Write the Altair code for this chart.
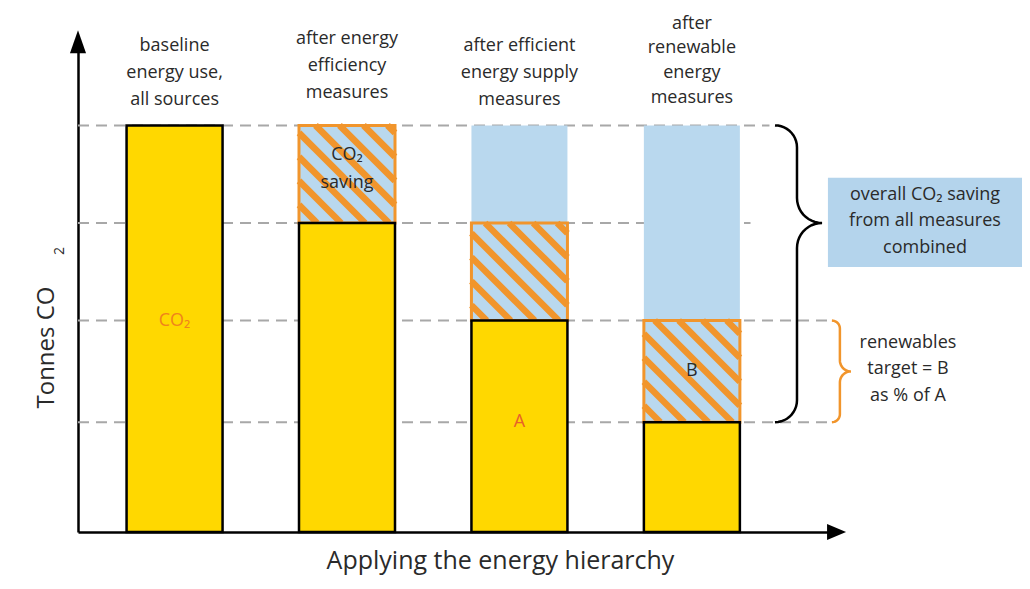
import altair as alt
import pandas as pd
import numpy as np

# ---------------- data ----------------
stage_pos = [1, 2, 3, 4]
stage_labels = [
    "baseline\nenergy use,\nall sources",
    "after energy\nefficiency\nmeasures",
    "after efficient\nenergy supply\nmeasures",
    "after\nrenewable\nenergy\nmeasures",
]
remaining_co2 = [100, 76, 52, 27]      # tonnes CO2 left after each step (relative)
baseline_co2 = 100

# ---------------- layout constants ----------------
X_DOM = [0.44, 4.83]
Y_DOM = [0, 121]
W, H = 757, 492
SX = W / (X_DOM[1] - X_DOM[0])   # px per x unit
SY = H / (Y_DOM[1] - Y_DOM[0])   # px per y unit
HALF = 48 / SX                   # half bar width

YELLOW = "#FFD800"
BLUE = "#B9D8EE"
BOX_BLUE = "#B4D4EC"
ORANGE = "#F1952C"
TXT = "#2a2a2a"
FONT = "Open Sans"
FS = 18

label_y = [119.5, 121.2, 119.5, 125.0]   # first line of each stage label
label_lh = [27, 27, 27, 24.7]
grid_end = [4.45, 4.34, 4.82, 4.82]

# ---------------- tables ----------------
yellow = pd.DataFrame({
    "x": [p - HALF for p in stage_pos], "x2": [p + HALF for p in stage_pos],
    "y": [0] * 4, "y2": remaining_co2})

hatch = pd.DataFrame({
    "x": [p - HALF for p in stage_pos[1:]], "x2": [p + HALF for p in stage_pos[1:]],
    "y": remaining_co2[1:], "y2": remaining_co2[:-1]})

blue = pd.DataFrame({
    "x": [p - HALF for p in stage_pos[2:]], "x2": [p + HALF for p in stage_pos[2:]],
    "y": remaining_co2[1:-1], "y2": [baseline_co2] * 2})

# hatch stripes ("\" direction), clipped to each hatched rectangle
rows = []
P = 24.0
for _, r in hatch.iterrows():
    u0, u1 = r.x * SX, r.x2 * SX
    v0, v1 = r.y * SY, r.y2 * SY
    c = np.floor((u0 + v0) / P) * P
    while c < u1 + v1:
        us = max(u0, c - v1)
        ue = min(u1, c - v0)
        if ue - us > 0.5:
            rows.append({"x": us / SX, "y": (c - us) / SY,
                         "x2": ue / SX, "y2": (c - ue) / SY})
        c += P
stripes = pd.DataFrame(rows)

grid = pd.DataFrame({"x": [X_DOM[0]] * 4, "x2": grid_end, "y": remaining_co2})


def brace(xa, yt, yb, ym, spine_px, tip_px):
    """curly brace opening left, tip to the right; returns data points"""
    ua = xa * SX
    ut = ua + tip_px
    r1 = spine_px
    r2 = tip_px - spine_px
    vt, vb, vm = yt * SY, yb * SY, ym * SY
    pts = []
    for a in np.linspace(np.pi / 2, 0, 12):        # top hook
        pts.append((ua + r1 * np.cos(a), vt - r1 + r1 * np.sin(a)))
    for a in np.linspace(np.pi, 1.5 * np.pi, 12):  # into tip
        pts.append((ut + r2 * np.cos(a), vm + r2 + r2 * np.sin(a)))
    for a in np.linspace(0.5 * np.pi, np.pi, 12):  # out of tip
        pts.append((ut + r2 * np.cos(a), vm - r2 + r2 * np.sin(a)))
    for a in np.linspace(0, -np.pi / 2, 12):       # bottom hook
        pts.append((ua + r1 * np.cos(a), vb + r1 + r1 * np.sin(a)))
    return pd.DataFrame({"x": [p[0] / SX for p in pts],
                         "y": [p[1] / SY for p in pts],
                         "o": list(range(len(pts)))})


brace_all = brace(4.482, remaining_co2[0], remaining_co2[3], remaining_co2[1], 22, 47)
brace_ren = brace(4.812, remaining_co2[2], remaining_co2[3],
                  (remaining_co2[2] + remaining_co2[3]) / 2, 8, 19)

labels = pd.DataFrame({"x": stage_pos, "y": label_y, "t": stage_labels})

inner = pd.DataFrame({
    "x": [1, 2, 3, 4],
    "y": [remaining_co2[2], 92.7, remaining_co2[3],
          (remaining_co2[2] + remaining_co2[3]) / 2],
    "t": ["CO₂", "CO₂\nsaving", "A", "B"],
    "c": ["#F0841C", TXT, "#E8602A", TXT]})

box = pd.DataFrame({"x": [4.789], "x2": [5.961], "y": [65.2], "y2": [87.1]})
notes = pd.DataFrame({
    "x": [5.352, 5.253],
    "y": [82.9, 46.5],
    "t": ["overall CO₂ saving\nfrom all measures\ncombined",
          "renewables\ntarget = B\nas % of A"]})

arrows = pd.DataFrame({"x": [X_DOM[0], 4.839], "y": [120.6, 0],
                       "s": ["up", "right"]})

# ---------------- encodings ----------------
xs = alt.Scale(domain=X_DOM, nice=False, zero=False)
ys = alt.Scale(domain=Y_DOM, nice=False, zero=False)
X = alt.X("x:Q", scale=xs, axis=alt.Axis(
    title="Applying the energy hierarchy", labels=False, ticks=False, grid=False,
    domainColor="black", domainWidth=2.5, titleFontSize=25, titleFont=FONT,
    titleFontWeight="normal", titleColor=TXT, titleX=422, titleY=36,
    titleAlign="center", titleBaseline="alphabetic"))
Y = alt.Y("y:Q", scale=ys, axis=alt.Axis(
    title="Tonnes CO", labels=False, ticks=False, grid=False,
    domainColor="black", domainWidth=2.5, titleFontSize=24, titleFont=FONT,
    titleFontWeight="normal", titleColor=TXT, titleAngle=270, titleX=-25,
    titleY=307, titleAlign="center", titleBaseline="alphabetic"))
X2 = alt.X2("x2:Q")
Y2 = alt.Y2("y2:Q")

layers = []
layers.append(alt.Chart(grid).mark_rule(color="#A8A8A8", strokeWidth=2,
                                         strokeDash=[11, 7]).encode(x=X, x2=X2, y=Y))
layers.append(alt.Chart(blue).mark_rect(color=BLUE).encode(x=X, x2=X2, y=Y, y2=Y2))
layers.append(alt.Chart(hatch).mark_rect(color=BLUE).encode(x=X, x2=X2, y=Y, y2=Y2))
layers.append(alt.Chart(stripes).mark_rule(color=ORANGE, strokeWidth=6.5,
                                            strokeCap="butt").encode(x=X, x2=X2, y=Y, y2=Y2))
layers.append(alt.Chart(hatch).mark_rect(fillOpacity=0, stroke=ORANGE, strokeWidth=3)
              .encode(x=X, x2=X2, y=Y, y2=Y2))
layers.append(alt.Chart(yellow).mark_rect(color=YELLOW, stroke="black", strokeWidth=2.5)
              .encode(x=X, x2=X2, y=Y, y2=Y2))
layers.append(alt.Chart(brace_all).mark_line(color="black", strokeWidth=2.5)
              .encode(x=X, y=Y, order="o:Q"))
layers.append(alt.Chart(brace_ren).mark_line(color=ORANGE, strokeWidth=2.5)
              .encode(x=X, y=Y, order="o:Q"))
layers.append(alt.Chart(box).mark_rect(color=BOX_BLUE).encode(x=X, x2=X2, y=Y, y2=Y2))
for i in range(len(stage_pos)):
    layers.append(alt.Chart(labels.iloc[[i]]).mark_text(
        font=FONT, fontSize=FS, color=TXT, lineBreak="\n", lineHeight=label_lh[i],
        baseline="middle").encode(x=X, y=Y, text="t:N"))
layers.append(alt.Chart(inner).mark_text(font=FONT, fontSize=FS, lineBreak="\n",
                                          lineHeight=28, baseline="middle")
              .encode(x=X, y=Y, text="t:N", color=alt.Color("c:N", scale=None)))
layers.append(alt.Chart(notes).mark_text(font=FONT, fontSize=FS, color=TXT,
                                          lineBreak="\n", lineHeight=26.5, baseline="middle")
              .encode(x=X, y=Y, text="t:N"))
layers.append(alt.Chart(arrows[arrows.s == "up"]).mark_point(
    shape="M0,-1L0.7,1L-0.7,1Z", size=529, filled=True, color="black", opacity=1)
    .encode(x=X, y=Y))
layers.append(alt.Chart(arrows[arrows.s == "right"]).mark_point(
    shape="M1,0L-1,0.85L-1,-0.85Z", size=361, filled=True, color="black", opacity=1)
    .encode(x=X, y=Y))
sub2 = pd.DataFrame({"x": [X_DOM[0] - 18 / SX], "y": [(532 - 251) / SY], "t": ["2"]})
layers.append(alt.Chart(sub2).mark_text(font=FONT, fontSize=14, color=TXT, angle=270)
              .encode(x=X, y=Y, text="t:N"))

chart = alt.layer(*layers).properties(
    width=W, height=H, autosize="none",
    padding={"left": 70, "top": 32, "right": 187, "bottom": 44},
    background="white",
).configure_view(strokeWidth=0)

chart.save("out.html", embed_options={"renderer": "svg", "actions": False})
